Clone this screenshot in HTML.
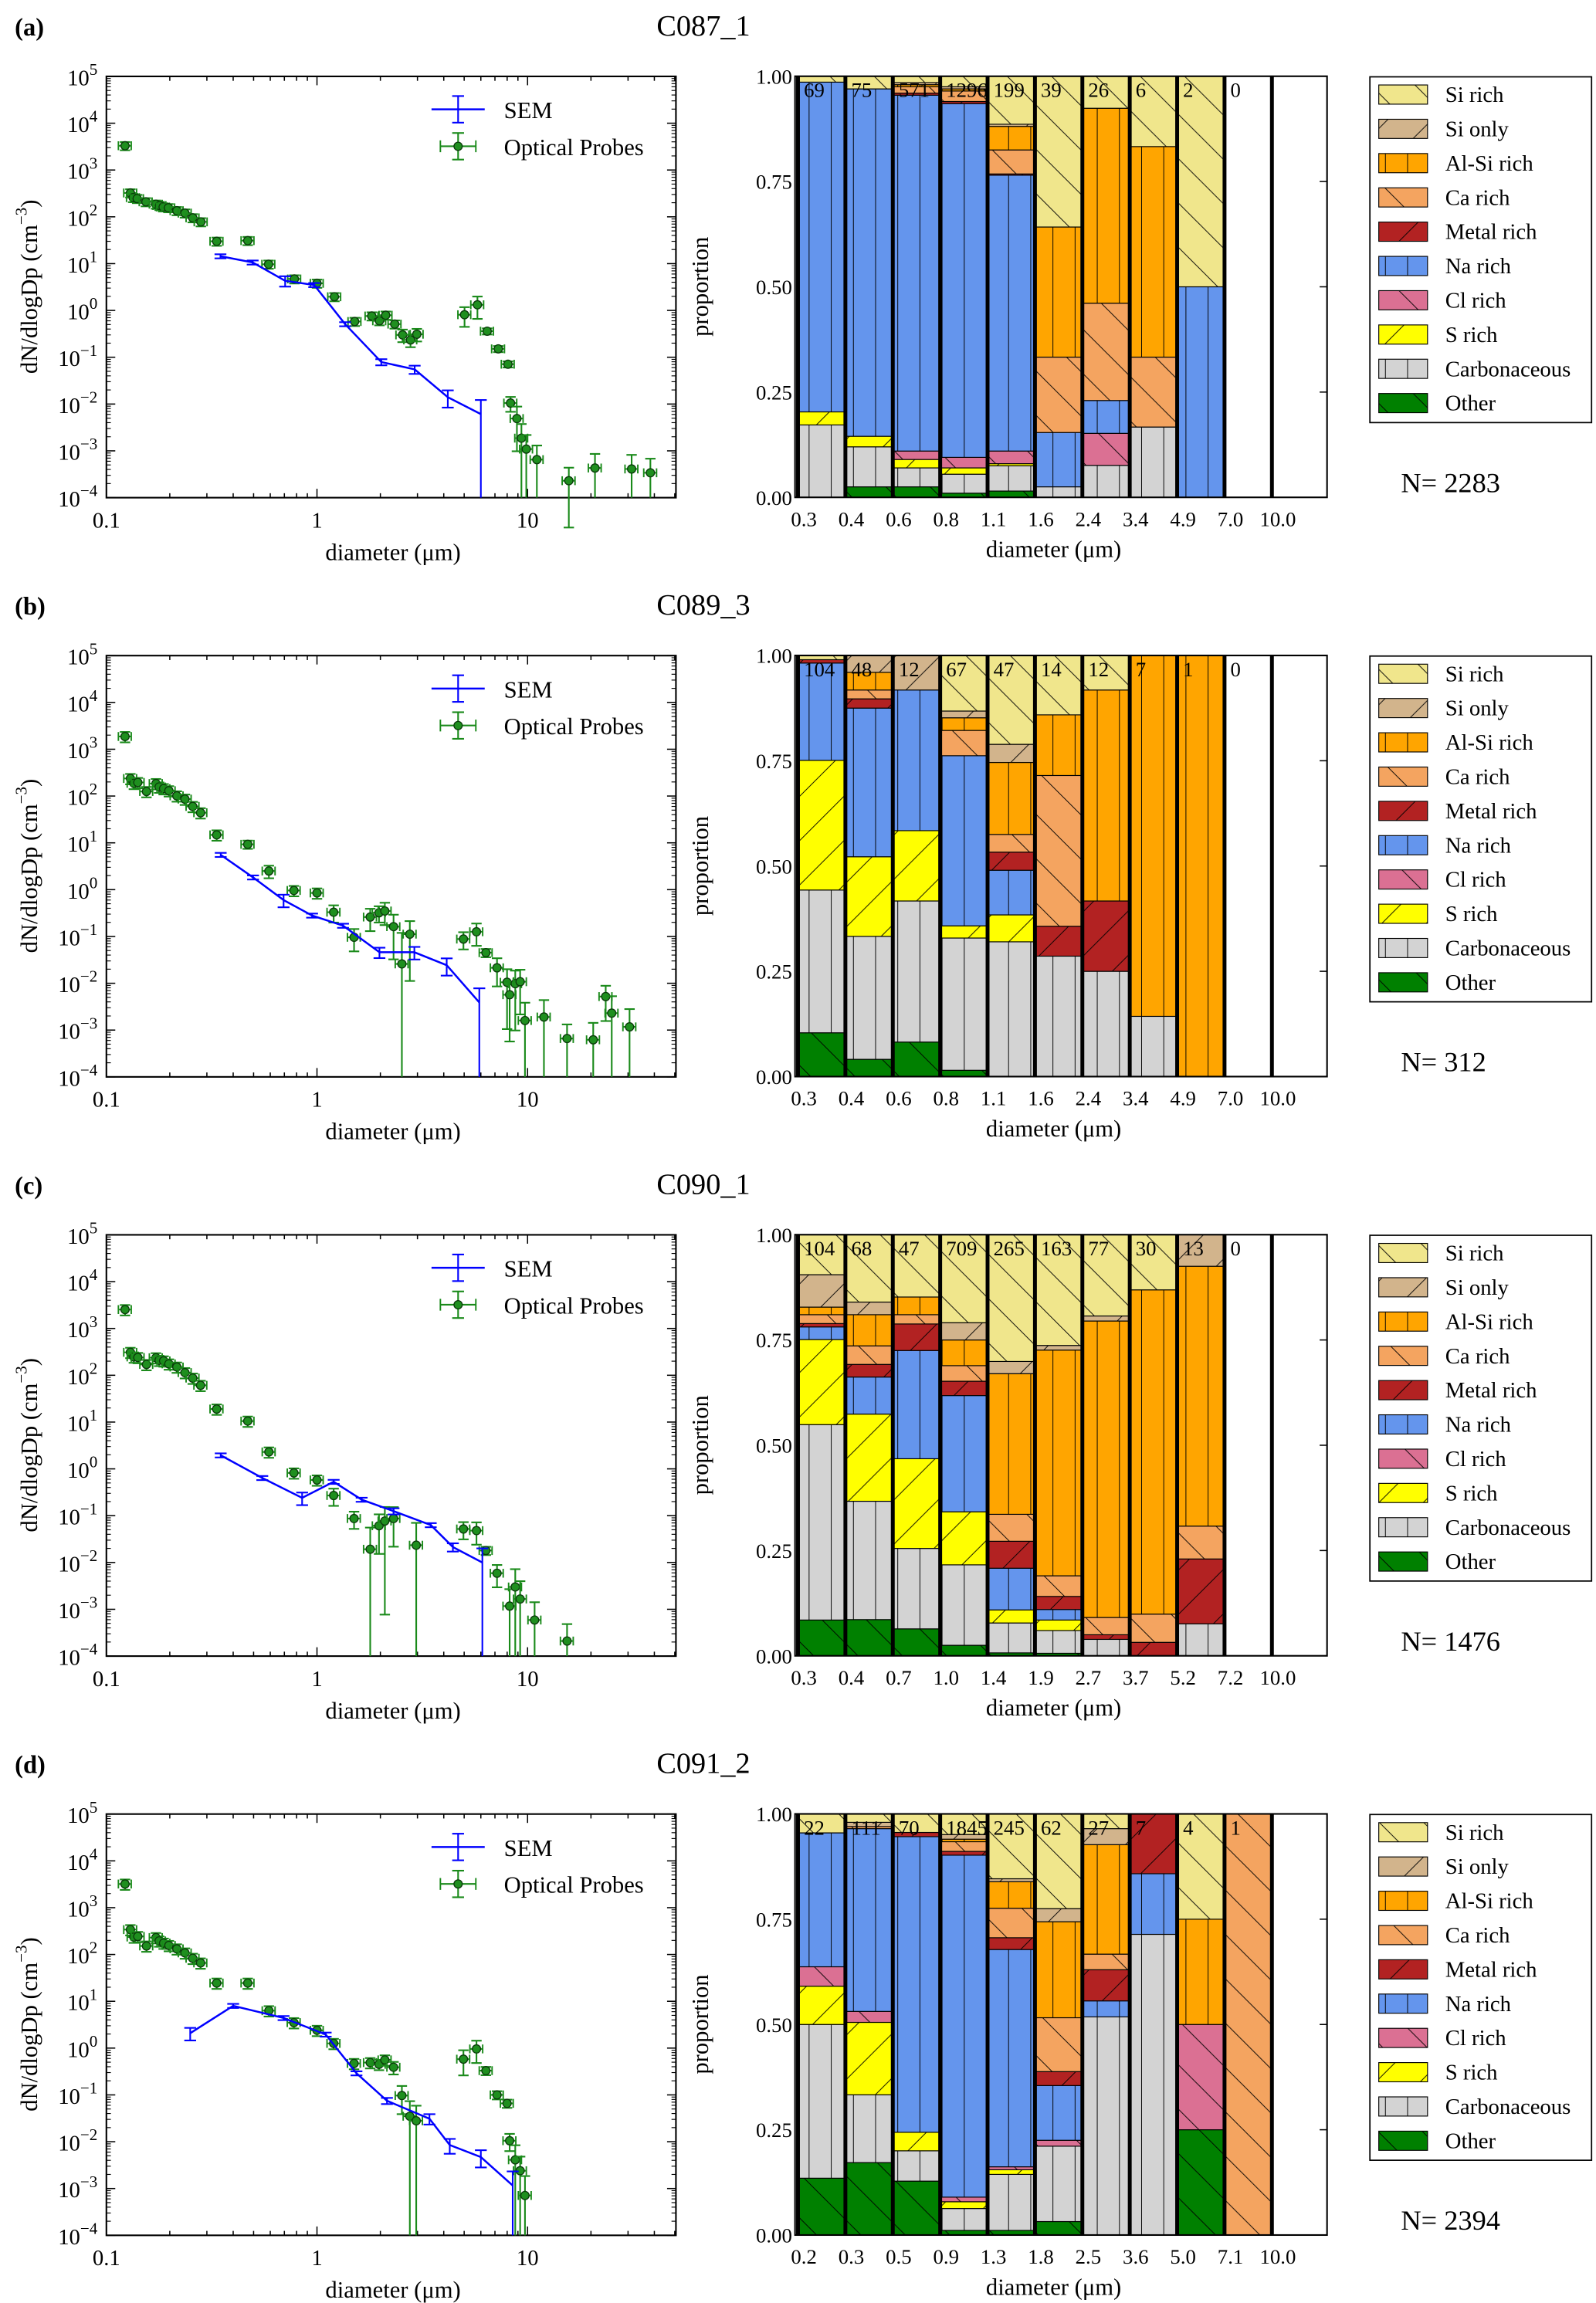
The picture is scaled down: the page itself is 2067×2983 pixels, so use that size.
<!DOCTYPE html>
<html><head><meta charset="utf-8"><style>
html,body{margin:0;padding:0;background:#fff}
svg{display:block;font-family:"Liberation Serif",serif}
</style></head><body>
<svg id="fig" xmlns="http://www.w3.org/2000/svg" width="2067" height="2983" viewBox="0 0 1080 1558.6" preserveAspectRatio="none">
<defs id="defs"></defs>
</svg>
<script>
// ---------- data ----------
const categories = ["Si rich","Si only","Al-Si rich","Ca rich","Metal rich","Na rich","Cl rich","S rich","Carbonaceous","Other"];
const catColors = ["#f0e68c","#d2b48c","#ffa500","#f4a460","#b22222","#6495ed","#db7093","#ffff00","#d3d3d3","#008000"];
const catHatch = ["b","f","v","b","f","v","b","f","v","b"];
// composition order bottom->top: Other, Carbonaceous, S, Cl, Na, Metal, Ca, AlSi, SiOnly, SiRich
const panelTitles = ["C087_1","C089_3","C090_1","C091_2"];
const panelLetters = ["(a)","(b)","(c)","(d)"];
const panelN = [2283,312,1476,2394];
const binLabels = [
 ["0.3","0.4","0.6","0.8","1.1","1.6","2.4","3.4","4.9","7.0","10.0"],
 ["0.3","0.4","0.6","0.8","1.1","1.6","2.4","3.4","4.9","7.0","10.0"],
 ["0.3","0.4","0.7","1.0","1.4","1.9","2.7","3.7","5.2","7.2","10.0"],
 ["0.2","0.3","0.5","0.9","1.3","1.8","2.5","3.6","5.0","7.1","10.0"]];
const binCounts = [
 [69,75,571,1296,199,39,26,6,2,0],
 [104,48,12,67,47,14,12,7,1,0],
 [104,68,47,709,265,163,77,30,13,0],
 [22,111,70,1845,245,62,27,7,4,1]];
const compA = [
 [0,.172,.031,0,.783,0,0,0,0,.014],[.025,.095,.025,0,.825,0,0,0,0,.03],
 [.025,.045,.02,.02,.845,.005,.015,.005,.005,.015],[.01,.045,.015,.025,.84,.005,.025,.005,.005,.025],
 [.015,.06,.005,.03,.655,.003,.057,.056,.005,.114],[0,.025,0,0,.129,0,.179,.309,0,.358],
 [0,.076,0,.076,.078,0,.231,.463,0,.076],[0,.167,0,0,0,0,.166,.5,0,.167],
 [0,0,0,0,.5,0,0,0,0,.5],[0,0,0,0,0,0,0,0,0,0]];
const compB = [
 [.104,.339,.308,0,.231,.008,0,0,0,.01],[.041,.292,.189,0,.353,.022,.021,.042,.04,0],
 [.082,.335,.167,0,.334,0,0,0,.082,0],[.015,.314,.029,0,.404,0,.06,.03,.016,.132],
 [0,.32,.064,0,.106,.043,.042,.171,.043,.211],[0,.286,0,0,0,.071,.358,.144,0,.141],
 [0,.25,0,0,0,.167,0,.501,0,.082],[0,.143,0,0,0,0,0,.857,0,0],
 [0,0,0,0,0,0,0,1,0,0],[0,0,0,0,0,0,0,0,0,0]];
const compC = [
 [.085,.464,.202,0,.03,.008,.021,.018,.077,.095],[.086,.281,.207,0,.088,.03,.044,.074,.03,.16],
 [.064,.191,.213,0,.257,.063,.022,.042,0,.148],[.025,.191,.126,0,.276,.034,.037,.061,.041,.209],
 [.007,.071,.031,0,.099,.064,.064,.334,.029,.301],[.006,.054,.025,0,.025,.031,.049,.536,.011,.263],
 [0,.039,0,0,0,.011,.041,.704,.012,.193],[0,0,0,0,0,.032,.067,.77,0,.131],
 [0,.076,0,0,0,.154,.078,.617,.075,0],[0,0,0,0,0,0,0,0,0,0]];
const compD = [
 [.135,.365,.091,.046,.318,0,0,0,0,.045],[.172,.161,.172,.026,.434,0,.005,0,.01,.02],
 [.128,.072,.044,0,.702,.01,0,0,0,.044],[.011,.052,.016,.011,.812,.009,.023,.006,.011,.049],
 [.011,.133,.011,.007,.516,.028,.07,.063,.007,.154],[.032,.179,0,.014,.13,.033,.128,.228,.031,.225],
 [0,.518,0,0,.038,.074,.037,.26,.038,.035],[0,.714,0,0,.144,.142,0,0,0,0],
 [.25,0,0,.25,0,0,0,.25,0,.25],[0,0,0,0,0,0,1,0,0,0]];
const comps = [compA,compB,compC,compD];

const optDA = [0.1226,0.130,0.134,0.140,0.154,0.172,0.179,0.186,0.197,0.216,0.236,0.257,0.281,0.334,0.469,0.589,0.781,1.0,1.21,1.51,1.82,1.98,2.12,2.34,2.55,2.78,2.98,5.02,5.78,6.43,7.26,8.07,8.3,8.9,9.35,9.86,11.07,15.7,20.9,31.2,38.3];
const optVA = [3300,323,257,245,209,186,174,162,156,135,120,95,78,30,31,9.7,4.7,3.8,1.96,0.58,0.76,0.60,0.79,0.51,0.30,0.234,0.31,0.81,1.32,0.36,0.151,0.071,0.0105,0.0049,0.00187,0.00109,0.00065,0.00023,0.00043,0.00041,0.00034];
const optEA = [.2,.2,.2,.2,.2,.2,.2,.2,.2,.2,.2,.2,.2,.2,.2,.2,.2,.2,.2,.2,.2,.2,.2,.2,.3,.3,.3,.45,.5,.15,.15,.15,.35,.8,1,1,1,.9,1,1,1];
const semDA = [0.348,0.495,0.706,0.97,1.36,2.02,2.91,4.18,6.0];
const semVA = [14.4,10.6,4.3,3.5,0.51,0.079,0.055,0.014,0.0061];
const semEA = [.1,.1,.25,.1,.1,.15,.2,.4,1];

const optDB = [0.1226,0.130,0.135,0.141,0.155,0.172,0.178,0.187,0.198,0.216,0.236,0.257,0.280,0.334,0.469,0.591,0.777,1.0,1.20,1.50,1.79,1.97,2.10,2.31,2.53,2.76,4.96,5.72,6.34,7.16,7.99,8.22,8.74,9.22,9.72,11.96,15.4,20.5,23.5,25.1,30.5];
const optVB = [1870,237,187,195,125,185,156,144,130,101,86,60,44,14.8,9.3,2.5,0.96,0.85,0.33,0.096,0.26,0.32,0.35,0.162,0.0259,0.112,0.088,0.126,0.045,0.0214,0.0105,0.0057,0.0098,0.0108,0.0016,0.0019,0.00066,0.00062,0.0052,0.0023,0.00117];
const optEB = [.25,.25,.25,.25,.25,.25,.25,.25,.25,.25,.25,.25,.25,.25,.2,.3,.25,.25,.4,.5,.5,.38,.5,.8,3.6,.9,.4,.5,.2,.6,.9,.9,.9,.8,1.4,1.3,1,1.3,.7,1.3,1.4];
const semDB = [0.349,0.497,0.694,0.948,1.33,1.98,2.90,4.13,5.9];
const semVB = [5.55,1.83,0.60,0.28,0.17,0.046,0.046,0.0243,0.0039];
const semEB = [.1,.1,.3,.1,.1,.25,.3,.4,1];

const optDC = [0.1226,0.130,0.135,0.141,0.155,0.172,0.178,0.187,0.198,0.216,0.236,0.257,0.280,0.334,0.469,0.591,0.777,1.0,1.20,1.50,1.79,1.97,2.10,2.31,2.96,4.96,5.72,6.34,7.16,8.22,8.74,9.22,10.8,15.4];
const optVC = [2530,309,246,240,170,237,209,203,175,150,114,87,61,19,10.5,2.3,0.82,0.58,0.27,0.087,0.0192,0.061,0.077,0.087,0.0234,0.052,0.048,0.018,0.0059,0.00117,0.0030,0.00166,0.00059,0.00021];
const optEC = [.25,.25,.25,.25,.25,.25,.25,.25,.25,.25,.25,.25,.25,.25,.25,.25,.25,.25,.4,.4,1.9,.75,.99,.75,2,.4,.5,.2,.5,1.3,1.4,1.4,1.4,1.3];
const semDC = [0.349,0.55,0.85,1.2,1.63,2.31,3.47,4.42,6.1];
const semVC = [1.95,0.64,0.24,0.53,0.22,0.125,0.063,0.0214,0.010];
const semEC = [.1,.1,.3,.1,.1,.15,.1,.2,1];

const optDD = [0.1226,0.130,0.135,0.141,0.155,0.172,0.178,0.187,0.198,0.216,0.236,0.257,0.280,0.334,0.469,0.591,0.777,1.0,1.20,1.50,1.79,1.97,2.10,2.31,2.53,2.76,2.96,4.96,5.72,6.34,7.16,7.99,8.22,8.74,9.22,9.72];
const optVD = [3200,340,236,243,152,230,195,175,156,132,108,83,66,24.5,24.5,6.3,3.5,2.4,1.26,0.47,0.49,0.45,0.56,0.39,0.097,0.035,0.028,0.58,0.96,0.33,0.1,0.066,0.0105,0.0041,0.0024,0.00071];
const optED = [.25,.25,.25,.25,.25,.25,.25,.25,.25,.25,.25,.25,.25,.25,.25,.25,.25,.25,.25,.25,.25,.25,.25,.3,.6,1.1,1.1,.55,.5,.2,.2,.2,.4,1.05,1.0,1.6];
const semDD = [0.25,0.40,0.694,1.1,1.54,2.15,3.42,4.27,6.0,8.5];
const semVD = [2.08,8.0,4.4,1.95,0.29,0.075,0.031,0.0085,0.0047,0.00116];
const semED = [.3,.1,.1,.1,.1,.15,.25,.35,.4,1];

const optD = [optDA,optDB,optDC,optDD], optV=[optVA,optVB,optVC,optVD], optE=[optEA,optEB,optEC,optED];
const semD = [semDA,semDB,semDC,semDD], semV=[semVA,semVB,semVC,semVD], semE=[semEA,semEB,semEC,semED];

// ---------- drawing ----------
const NS="http://www.w3.org/2000/svg";
const svg=document.getElementById('fig');
const defs=document.getElementById('defs');
function mk(tag,attrs,parent){const e=document.createElementNS(NS,tag);for(const k in attrs)e.setAttribute(k,attrs[k]);(parent||svg).appendChild(e);return e;}
function txt(s,attrs,parent){const e=mk('text',attrs,parent);e.textContent=s;return e;}

// hatch patterns
categories.forEach((c,k)=>{
  const h=catHatch[k];
  const w = h==='v'?15:30, hh = h==='v'?10:30;
  const p=mk('pattern',{id:'pat'+k,patternUnits:'userSpaceOnUse',width:w,height:hh},defs);
  mk('rect',{x:0,y:0,width:w,height:hh,fill:catColors[k]},p);
  let d='';
  if(h==='b') d='M0,0L30,30M-15,15L15,45M15,-15L45,15';
  else if(h==='f') d='M0,30L30,0M-15,15L15,-15M15,45L45,15';
  else d='M7.5,0L7.5,10';
  mk('path',{d:d,stroke:'#000','stroke-width':0.5,fill:'none'},p);
});

const PANEL_DY=392;
for(let p=0;p<4;p++){
  const off=p*PANEL_DY;
  const g=mk('g',{});
  
  
  const lt=txt(panelLetters[p],{x:10,y:24+off,'font-size':17,'font-weight':'bold'},g);
  
  
  const tt=txt(panelTitles[p],{x:476,y:24+off,'font-size':20,'text-anchor':'middle'},g);
  
  

  // ---- size distribution plot ----
  const L=72,R=457.4,T=51.7+off,B=336.8+off;
  const xs=d=>L+(Math.log10(d)+1)*142.5;
  const ys=v=>B-(Math.log10(v)+4)*(B-T)/9;
  const lg=mk('g',{},g);
  
  
  mk('rect',{x:L,y:T,width:R-L,height:B-T,fill:'none',stroke:'#000','stroke-width':1.1},lg);
  // x ticks
  for(let e=-1;e<=1;e++){for(let m=1;m<=9;m++){const d=m*Math.pow(10,e);const x=xs(d);if(x>R)continue;const len=m===1?6:3;
    mk('line',{x1:x,y1:B,x2:x,y2:B-len,stroke:'#000','stroke-width':0.8},lg);
    mk('line',{x1:x,y1:T,x2:x,y2:T+len,stroke:'#000','stroke-width':0.8},lg);}}
  ["0.1","1","10"].forEach((s,i)=>{const t=txt(s,{x:xs(Math.pow(10,i-1)),y:357+off,'font-size':15,'text-anchor':'middle'},lg);
    
    });
  // y ticks
  for(let e=-4;e<=5;e++){const y=ys(Math.pow(10,e));
    mk('line',{x1:L,y1:y,x2:L+6,y2:y,stroke:'#000','stroke-width':0.8},lg);
    mk('line',{x1:R,y1:y,x2:R-6,y2:y,stroke:'#000','stroke-width':0.8},lg);
    if(e<5){for(let m=2;m<=9;m++){const yy=ys(m*Math.pow(10,e));
      mk('line',{x1:L,y1:yy,x2:L+3,y2:yy,stroke:'#000','stroke-width':0.6},lg);
      mk('line',{x1:R,y1:yy,x2:R-3,y2:yy,stroke:'#000','stroke-width':0.6},lg);}}
    const t=mk('text',{x:66,y:y+6,'font-size':15,'text-anchor':'end'},lg);
    
    
    t.appendChild(document.createTextNode('10'));
    const s=mk('tspan',{dy:-7,'font-size':11},t);s.textContent=(e<0?'\u2212'+(-e):''+e);
  }
  const xl=txt('diameter (\u03bcm)',{x:266,y:379+off,'font-size':16,'text-anchor':'middle'},lg);
  
  
  const yl=mk('text',{x:0,y:0,'font-size':16,'text-anchor':'middle',transform:`translate(25,${194+off}) rotate(-90)`},lg);
  
  
  yl.appendChild(document.createTextNode('dN/dlogDp (cm'));
  const ys2=mk('tspan',{dy:-7,'font-size':11},yl);ys2.textContent='\u22123';
  const ys3=mk('tspan',{dy:7},yl);ys3.textContent=')';

  // optical probes
  const OC='#1a8a1a';
  const og=mk('g',{},lg);
  
  
  optD[p].forEach((d,i)=>{
    const v=optV[p][i], r=optE[p][i];
    const x=xs(d), y=ys(v);
    const yt=ys(v*(1+r)); const yb = r>=1? B : ys(v*(1-r));
    mk('line',{x1:x,y1:yt,x2:x,y2:yb,stroke:OC,'stroke-width':1.1},og);
    mk('line',{x1:x-3.5,y1:yt,x2:x+3.5,y2:yt,stroke:OC,'stroke-width':1.1},og);
    if(r<1) mk('line',{x1:x-3.5,y1:yb,x2:x+3.5,y2:yb,stroke:OC,'stroke-width':1.1},og);
    const x1=xs(d*0.93), x2=xs(d*1.07);
    mk('line',{x1:x1,y1:y,x2:x2,y2:y,stroke:OC,'stroke-width':1.1},og);
    mk('line',{x1:x1,y1:y-3,x2:x1,y2:y+3,stroke:OC,'stroke-width':1},og);
    mk('line',{x1:x2,y1:y-3,x2:x2,y2:y+3,stroke:OC,'stroke-width':1},og);
    const c=mk('circle',{cx:x,cy:y,r:2.8,fill:'#1f8f1f',stroke:'#0a3a0a','stroke-width':0.7},og);
    
    
  });
  // SEM
  const sg=mk('g',{},lg);
  
  
  const pts=semD[p].map((d,i)=>xs(d)+','+ys(semV[p][i])).join(' ');
  mk('polyline',{points:pts,fill:'none',stroke:'#0000ff','stroke-width':1.3},sg);
  semD[p].forEach((d,i)=>{
    const v=semV[p][i], r=semE[p][i], x=xs(d);
    const yt=ys(v*(1+r)); const yb=r>=1?B:ys(v*(1-r));
    mk('line',{x1:x,y1:yt,x2:x,y2:yb,stroke:'#0000ff','stroke-width':1.1},sg);
    mk('line',{x1:x-4,y1:yt,x2:x+4,y2:yt,stroke:'#0000ff','stroke-width':1.1},sg);
    if(r<1) mk('line',{x1:x-4,y1:yb,x2:x+4,y2:yb,stroke:'#0000ff','stroke-width':1.1},sg);
  });
  // legend
  const leg=mk('g',{},lg);
  
  
  mk('line',{x1:292,y1:74+off,x2:328,y2:74+off,stroke:'#0000ff','stroke-width':1.3},leg);
  mk('line',{x1:310,y1:65+off,x2:310,y2:83+off,stroke:'#0000ff','stroke-width':1.1},leg);
  mk('line',{x1:306,y1:65+off,x2:314,y2:65+off,stroke:'#0000ff','stroke-width':1.1},leg);
  mk('line',{x1:306,y1:83+off,x2:314,y2:83+off,stroke:'#0000ff','stroke-width':1.1},leg);
  txt('SEM',{x:341,y:80+off,'font-size':16},leg);
  mk('line',{x1:298,y1:99+off,x2:322,y2:99+off,stroke:OC,'stroke-width':1.1},leg);
  mk('line',{x1:310,y1:90+off,x2:310,y2:108+off,stroke:OC,'stroke-width':1.1},leg);
  mk('line',{x1:306,y1:90+off,x2:314,y2:90+off,stroke:OC,'stroke-width':1.1},leg);
  mk('line',{x1:306,y1:108+off,x2:314,y2:108+off,stroke:OC,'stroke-width':1.1},leg);
  mk('line',{x1:298,y1:95+off,x2:298,y2:103+off,stroke:OC,'stroke-width':1},leg);
  mk('line',{x1:322,y1:95+off,x2:322,y2:103+off,stroke:OC,'stroke-width':1},leg);
  mk('circle',{cx:310,cy:99+off,r:2.8,fill:'#1f8f1f',stroke:'#0a3a0a','stroke-width':0.7},leg);
  txt('Optical Probes',{x:341,y:105+off,'font-size':16},leg);

  // ---- composition bar chart ----
  const BL=540,BR=898,BT=51.6+off,BB=336.6+off,bw=32.07;
  const yp=v=>BB-v*(BB-BT);
  const bg=mk('g',{},g);
  
  
  comps[p].forEach((comp,i)=>{
    let cum=0;
    const x=BL+i*bw;
    for(let j=0;j<10;j++){
      const v=comp[j]; if(v<=0){continue;}
      const k=9-j; // category index
      const r=mk('rect',{x:x,y:yp(cum+v),width:bw,height:yp(cum)-yp(cum+v),fill:'url(#pat'+k+')',stroke:'#000','stroke-width':0.6},bg);
      
      
      cum+=v;
    }
    const c=txt(String(binCounts[p][i]),{x:x+4,y:BT+14,'font-size':14},bg);
    
    
  });
  for(let i=0;i<=binCounts[p].length;i++){const x=BL+i*bw;
    mk('line',{x1:x,y1:BT,x2:x,y2:BB,stroke:'#000','stroke-width':2.6},bg);}
  mk('rect',{x:BL-2,y:BT,width:BR-BL+2,height:BB-BT,fill:'none',stroke:'#000','stroke-width':1.1},bg);
  [0,0.25,0.5,0.75,1].forEach(v=>{const y=yp(v);
    mk('line',{x1:BR,y1:y,x2:BR-5,y2:y,stroke:'#000','stroke-width':0.8},bg);
    const t=txt(v.toFixed(2),{x:536,y:y+5,'font-size':14,'text-anchor':'end'},bg);
    
    });
  binLabels[p].forEach((s,i)=>{const t=txt(s,{x:BL+i*bw+4,y:356+off,'font-size':14,'text-anchor':'middle'},bg);
    
    });
  const bx=txt('diameter (\u03bcm)',{x:713,y:377+off,'font-size':16,'text-anchor':'middle'},bg);
  
  
  const by=txt('proportion',{x:0,y:0,'font-size':16,'text-anchor':'middle',transform:`translate(479,${194+off}) rotate(-90)`},bg);
  
  

  // category legend
  const cl=mk('g',{},g);
  
  
  mk('rect',{x:927,y:52+off,width:150,height:234,fill:'#fff',stroke:'#000','stroke-width':0.9},cl);
  categories.forEach((c,k)=>{const yc=64+k*23.2+off;
    const e=mk('g',{},cl);
    
    
    mk('rect',{x:933,y:yc-6.5,width:33,height:13,fill:'url(#pat'+k+')',stroke:'#000','stroke-width':0.6},e);
    txt(c,{x:978,y:yc+5,'font-size':15},e);});
  const nt=txt('N= '+panelN[p],{x:948,y:333+off,'font-size':19},g);
  
  
}
</script>
</body></html>
